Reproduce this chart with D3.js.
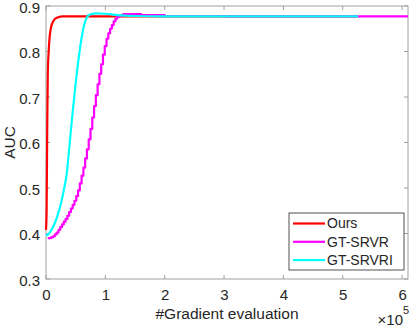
<!DOCTYPE html>
<html><head><meta charset="utf-8">
<script src="https://cdn.jsdelivr.net/npm/d3@7"></script>
<style>body{margin:0;background:#fff}svg{display:block;font-family:"Liberation Sans",Arial,sans-serif}</style>
</head><body>
<script>
// x values in units of 1e5 gradient evaluations
const oursX = [0, 0.01, 0.02, 0.03, 0.045, 0.06, 0.08, 0.12, 0.18, 0.3, 5.25];
const oursY = [0.408, 0.45, 0.62, 0.75, 0.80, 0.83, 0.85, 0.866, 0.874, 0.877, 0.877];
const srvrX = [0.03, 0.06, 0.09, 0.12, 0.15, 0.18, 0.21, 0.24, 0.27, 0.30, 0.33, 0.36, 0.39, 0.42, 0.45, 0.48, 0.51, 0.54, 0.57, 0.60, 0.63, 0.66, 0.69, 0.72, 0.75, 0.78, 0.81, 0.84, 0.87, 0.90, 0.93, 0.96, 0.99, 1.02, 1.05, 1.08, 1.11, 1.14, 1.17, 1.20, 1.23, 1.30, 1.40, 1.6, 2.0, 3.0, 6.1];
const srvrY = [0.390, 0.390, 0.392, 0.394, 0.398, 0.402, 0.408, 0.414, 0.420, 0.426, 0.432, 0.439, 0.447, 0.455, 0.463, 0.472, 0.482, 0.495, 0.510, 0.527, 0.545, 0.565, 0.585, 0.607, 0.630, 0.655, 0.680, 0.704, 0.728, 0.751, 0.772, 0.793, 0.812, 0.828, 0.840, 0.850, 0.858, 0.866, 0.872, 0.876, 0.879, 0.882, 0.882, 0.880, 0.878, 0.877, 0.877];
const srvriX = [0, 0.05, 0.10, 0.15, 0.20, 0.25, 0.30, 0.35, 0.40, 0.45, 0.50, 0.55, 0.60, 0.65, 0.70, 0.75, 0.85, 1.0, 1.2, 1.5, 2.0, 5.26];
const srvriY = [0.395, 0.400, 0.410, 0.423, 0.442, 0.465, 0.495, 0.532, 0.600, 0.668, 0.730, 0.785, 0.830, 0.862, 0.877, 0.882, 0.884, 0.883, 0.880, 0.878, 0.877, 0.877];
const seriesNames = ["Ours", "GT-SRVR", "GT-SRVRI"];
const seriesColors = ["#ff0000", "#ff00ff", "#00ffff"];
const xTicks = [0, 1, 2, 3, 4, 5, 6];
const yTicks = [0.3, 0.4, 0.5, 0.6, 0.7, 0.8, 0.9];

const W = 410, H = 327;
const L = 46, R = 408, T = 6, B = 279;
const svg = d3.select("body").append("svg").attr("width", W).attr("height", H);
const x = d3.scaleLinear().domain([0, 6.1]).range([L, R]);
const y = d3.scaleLinear().domain([0.3, 0.9]).range([B, T]);

const axisCol = "#a0a0a0", textCol = "#262626";
const g = svg.append("g");
g.append("rect").attr("x", L).attr("y", T).attr("width", R - L).attr("height", B - T)
  .attr("fill", "none").attr("stroke", axisCol).attr("stroke-width", 1);

const tl = 4;
const axB = d3.axisBottom(x).tickValues(xTicks).tickSize(0).tickFormat(d3.format("d"));
const axL = d3.axisLeft(y).tickValues(yTicks).tickSize(0).tickFormat(d3.format(".1f"));
const gx = svg.append("g").attr("transform", `translate(0,${B})`).call(axB);
gx.select(".domain").remove();
gx.selectAll("text").attr("fill", textCol).attr("font-size", 15).attr("dy", "1.2em")
  .attr("font-family", "Liberation Sans, Arial, sans-serif");
const gy = svg.append("g").attr("transform", `translate(${L},0)`).call(axL);
gy.select(".domain").remove();
gy.selectAll("text").attr("fill", textCol).attr("font-size", 15).attr("x", -6).attr("dy", "0.4em")
  .attr("font-family", "Liberation Sans, Arial, sans-serif");

const tk = svg.append("g").attr("stroke", axisCol).attr("stroke-width", 1);
xTicks.forEach(v => {
  tk.append("line").attr("x1", x(v)).attr("x2", x(v)).attr("y1", B).attr("y2", B - tl);
  tk.append("line").attr("x1", x(v)).attr("x2", x(v)).attr("y1", T).attr("y2", T + tl);
});
yTicks.forEach(v => {
  tk.append("line").attr("x1", L).attr("x2", L + tl).attr("y1", y(v)).attr("y2", y(v));
  tk.append("line").attr("x1", R).attr("x2", R - tl).attr("y1", y(v)).attr("y2", y(v));
});

const data = [d3.zip(oursX, oursY), d3.zip(srvrX, srvrY), d3.zip(srvriX, srvriY)];
const curves = [d3.curveMonotoneX, d3.curveStepAfter, d3.curveMonotoneX];
data.forEach((d, i) => {
  const line = d3.line().x(p => x(p[0])).y(p => y(p[1])).curve(curves[i]);
  svg.append("path").datum(d).attr("d", line).attr("fill", "none")
    .attr("stroke", seriesColors[i]).attr("stroke-width", 2.2).attr("stroke-linejoin", "round");
});

svg.append("text").attr("x", (L + R) / 2).attr("y", 319).attr("text-anchor", "middle")
  .attr("font-size", 15.5).attr("fill", textCol).text("#Gradient evaluation");
svg.append("text").attr("transform", `translate(15,${(T + B) / 2}) rotate(-90)`).attr("text-anchor", "middle")
  .attr("font-size", 15.5).attr("fill", textCol).text("AUC");
svg.append("text").attr("x", 403).attr("y", 325).attr("text-anchor", "end")
  .attr("font-size", 15).attr("fill", textCol).text("×10");
svg.append("text").attr("x", 403).attr("y", 314).attr("font-size", 11).attr("fill", textCol).text("5");

const lg = svg.append("g");
const lx0 = 289, lx1 = 404, ly0 = 213, ly1 = 270;
lg.append("rect").attr("x", lx0).attr("y", ly0).attr("width", lx1 - lx0).attr("height", ly1 - ly0)
  .attr("fill", "#fff").attr("stroke", "#262626").attr("stroke-width", 0.8);
seriesNames.forEach((n, i) => {
  const cy = 223.5 + i * 18.3;
  lg.append("line").attr("x1", 293).attr("x2", 325).attr("y1", cy).attr("y2", cy)
    .attr("stroke", seriesColors[i]).attr("stroke-width", 2.2);
  lg.append("text").attr("x", 327).attr("y", cy).attr("dy", "0.35em").attr("font-size", 14)
    .attr("fill", textCol).text(n);
});
</script>
</body></html>
